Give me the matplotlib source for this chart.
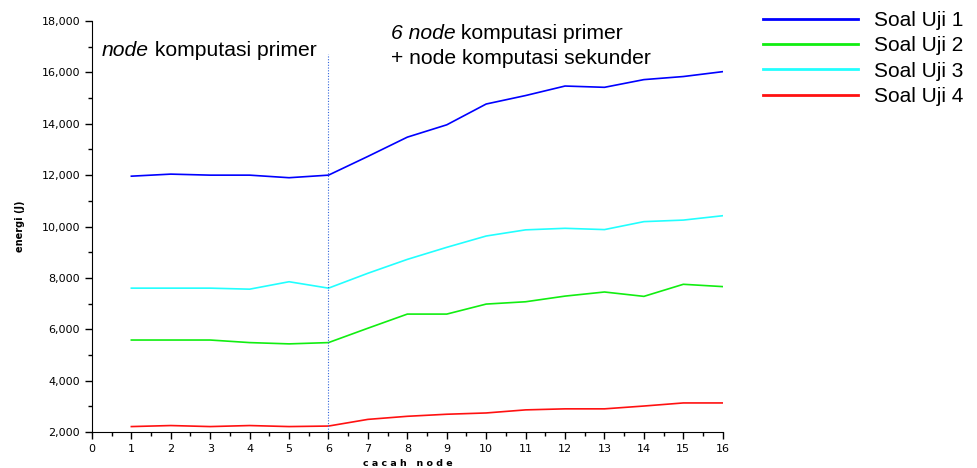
import matplotlib
matplotlib.use("Agg")
import matplotlib.pyplot as plt
from matplotlib.ticker import MultipleLocator, FuncFormatter

nodes = [1, 2, 3, 4, 5, 6, 7, 8, 9, 10, 11, 12, 13, 14, 15, 16]
soal_uji_1 = [11960, 12040, 12000, 12000, 11900, 12000, 12730, 13480, 13960, 14770, 15100, 15470, 15420, 15720, 15840, 16030]
soal_uji_2 = [5580, 5580, 5580, 5480, 5430, 5480, 6040, 6590, 6590, 6980, 7070, 7290, 7450, 7280, 7750, 7660]
soal_uji_3 = [7600, 7600, 7600, 7560, 7850, 7600, 8180, 8720, 9190, 9630, 9870, 9930, 9880, 10190, 10250, 10420]
soal_uji_4 = [2210, 2250, 2210, 2250, 2210, 2230, 2490, 2610, 2690, 2740, 2860, 2900, 2900, 3010, 3130, 3130]
series_labels = ["Soal Uji 1", "Soal Uji 2", "Soal Uji 3", "Soal Uji 4"]
series_colors = ["#0000ff", "#11ee11", "#22ffff", "#ff1111"]

plt.rcParams['font.family'] = ['Liberation Sans', 'DejaVu Sans']
fig = plt.figure(figsize=(9.78, 4.68), dpi=100)
ax = fig.add_axes([0.094, 0.077, 0.645, 0.878])

for vals, lab, col in zip([soal_uji_1, soal_uji_2, soal_uji_3, soal_uji_4], series_labels, series_colors):
    ax.plot(nodes, vals, color=col, lw=1.2, label=lab)

ax.plot([6, 6], [2000, 16700], color="#3366dd", lw=0.8, linestyle=(0, (1, 1.5)))

ax.set_xlim(0, 16)
ax.set_ylim(2000, 18000)
ax.xaxis.set_major_locator(MultipleLocator(1))
ax.xaxis.set_minor_locator(MultipleLocator(0.5))
ax.yaxis.set_major_locator(MultipleLocator(2000))
ax.yaxis.set_minor_locator(MultipleLocator(1000))
ax.yaxis.set_major_formatter(FuncFormatter(lambda v, p: f"{int(v):,}"))
for s in ["top", "right"]:
    ax.spines[s].set_visible(False)
ax.tick_params(axis="both", which="major", length=5, width=1, labelsize=8, direction="out")
ax.tick_params(axis="both", which="minor", length=3, width=1, direction="out")
for lbl in ax.get_xticklabels() + ax.get_yticklabels():
    lbl.set_family("DejaVu Sans")

ax.set_xlabel("c a c a h   n o d e", fontsize=6.8, fontweight="bold", family="DejaVu Sans", labelpad=4)
ax.set_ylabel("energi (J)", fontsize=7, fontweight="bold", family="DejaVu Sans", labelpad=12)

fs = 15.2
ta = ax.text(0.25, 16490, "node", fontsize=fs, style="italic", va="bottom", ha="left")
ax.annotate(" komputasi primer", xy=(1, 0), xycoords=ta, fontsize=fs, va="bottom", ha="left")

tb = ax.text(7.58, 17150, "6 node", fontsize=fs, style="italic", va="bottom", ha="left")
ax.annotate(" komputasi primer", xy=(1, 0), xycoords=tb, fontsize=fs, va="bottom", ha="left")
ax.text(7.58, 16180, "+ node komputasi sekunder", fontsize=fs, va="bottom", ha="left")

leg = ax.legend(loc="upper left", bbox_to_anchor=(0.780, 0.976), bbox_transform=fig.transFigure,
                frameon=False, fontsize=15, handlelength=4.55, handletextpad=0.8, labelspacing=0.3,
                borderaxespad=0, borderpad=0)
for h in leg.get_lines():
    h.set_linewidth(2)

fig.savefig("out.png", dpi=100)
